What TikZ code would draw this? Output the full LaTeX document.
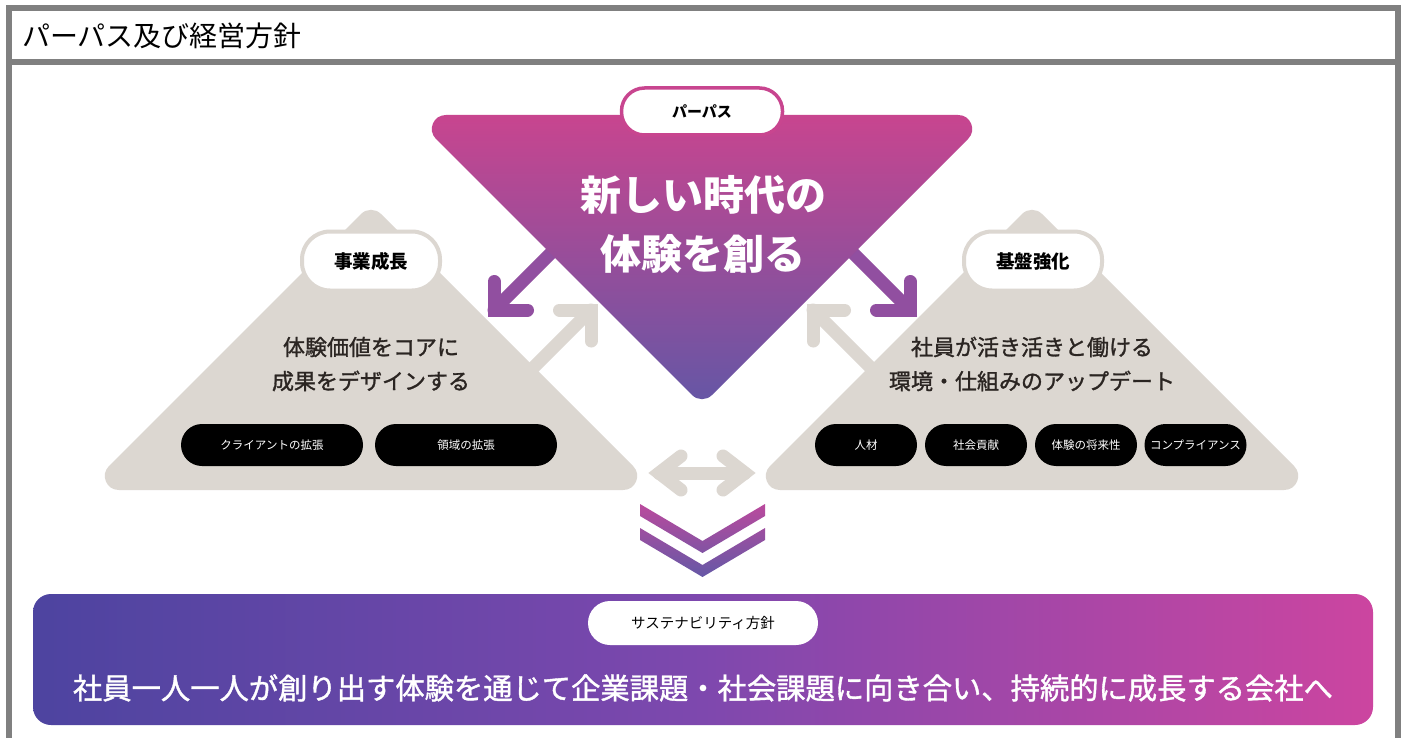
\documentclass[tikz,border=0pt]{standalone}
\usepackage{fontspec}
\newfontfamily\jp{Noto Sans CJK JP}
\newfontfamily\jpm{Noto Sans CJK JP}[FakeBold=1.3]
\definecolor{frame}{HTML}{808080}
\definecolor{tpink}{HTML}{C8458F}
\definecolor{tblue}{HTML}{6656A5}
\definecolor{grayT}{HTML}{DCD7D1}
\definecolor{arrowP}{HTML}{914FA0}
\definecolor{darktext}{HTML}{2B2522}
\definecolor{bblue}{HTML}{4D44A0}
\definecolor{bmid}{HTML}{7E48AE}
\definecolor{bpink}{HTML}{CC45A0}
\definecolor{cvtop}{HTML}{BA4A9D}
\definecolor{cvbot}{HTML}{6558A6}
\begin{document}
\begin{tikzpicture}[x=1pt,y=-1pt,
  framestyle/.style={draw=frame, line width=6pt},
  graytri/.style={fill=grayT},
  wpill/.style={draw=grayT, line width=4pt, fill=white, rounded corners=28pt,
    minimum width=138pt, minimum height=59pt, inner sep=0pt,
    font=\jp\bfseries\fontsize{18.5}{22}\selectfont, text=black},
  ppill/.style={draw=tpink, line width=3.5pt, fill=white, rounded corners=23pt,
    minimum width=161pt, minimum height=47pt, inner sep=0pt,
    font=\jp\bfseries\fontsize{15}{18}\selectfont, text=black},
  spill/.style={fill=white, rounded corners=22pt,
    minimum width=230pt, minimum height=44pt, inner sep=0pt,
    font=\jp\fontsize{14.5}{17}\selectfont, text=black},
  bpill/.style={fill=black, rounded corners=21pt, minimum height=42pt, inner sep=0pt,
    text=white, font=\jp\fontsize{11.5}{13}\selectfont},
  midtext/.style={font=\jpm\fontsize{22}{26}\selectfont, text=darktext, inner sep=0pt},
  bigtext/.style={font=\jp\bfseries\fontsize{41}{48}\selectfont, text=white, inner sep=0pt},
  parrow/.style={draw=arrowP, line width=13pt, line cap=round, line join=miter},
  garrow/.style={draw=grayT, line width=13pt, line cap=round, line join=miter}
]
\useasboundingbox (0,0) rectangle (1405,738);
\fill[white] (0,0) rectangle (1405,738);

% frame
\draw[framestyle] (8.5,745) -- (8.5,8) -- (1397.5,8) -- (1397.5,745);
\draw[draw=frame, line width=5.5pt] (8.5,62) -- (1397.5,62);
\node[anchor=west, inner sep=0pt, font=\jp\fontsize{28}{32}\selectfont] (title) at (22,36) {パーパス及び経営方針};

% gray triangles (rounded corners built by hand)
\path[graytri] (361.1,213.9) .. controls (366.5,208.5) and (375.5,208.5) .. (380.9,213.9)
  -- (633.1,466.1) .. controls (641.9,474.9) and (635.7,490) .. (623.2,490)
  -- (118.8,490) .. controls (106.3,490) and (100.1,474.9) .. (108.9,466.1) -- cycle;
\begin{scope}[xshift=661pt]
\path[graytri] (361.1,213.9) .. controls (366.5,208.5) and (375.5,208.5) .. (380.9,213.9)
  -- (633.1,466.1) .. controls (641.9,474.9) and (635.7,490) .. (623.2,490)
  -- (118.8,490) .. controls (106.3,490) and (100.1,474.9) .. (108.9,466.1) -- cycle;
\end{scope}

% gray arrows
\coordinate (lgC) at (591,310);
\coordinate (lgT) at (525,376);
\coordinate (lgA) at (559.5,310);
\coordinate (lgB) at (591,341);
\draw[garrow] (lgT) -- (lgC);
\draw[garrow] (lgA) -- (lgC) -- (lgB);
\coordinate (rgC) at (813,310);
\coordinate (rgT) at (879,376);
\coordinate (rgA) at (844.5,310);
\coordinate (rgB) at (813,341);
\draw[garrow] (rgT) -- (rgC);
\draw[garrow] (rgA) -- (rgC) -- (rgB);

% purple arrows
\coordinate (lpC) at (494,310);
\coordinate (lpT) at (565,239);
\coordinate (lpA) at (494,281.5);
\coordinate (lpB) at (527.5,310);
\draw[parrow] (lpT) -- (lpC);
\draw[parrow] (lpA) -- (lpC) -- (lpB);
\coordinate (rpC) at (910,310);
\coordinate (rpT) at (839,239);
\coordinate (rpA) at (910,281.5);
\coordinate (rpB) at (876.5,310);
\draw[parrow] (rpT) -- (rpC);
\draw[parrow] (rpA) -- (rpC) -- (rpB);

% top triangle
\shade[top color=tpink, bottom color=tblue]
  (445.8,115) -- (958.2,115) .. controls (970.7,115) and (976.9,130.1) .. (968.1,138.9)
  -- (711.9,395.1) .. controls (706.5,400.5) and (697.5,400.5) .. (692.1,395.1)
  -- (435.9,138.9) .. controls (427.1,130.1) and (433.3,115) .. (445.8,115) -- cycle;

% pills
\node[ppill] (purpose) at (702,111.5) {パーパス};
\node[wpill] (jigyo) at (371,261) {事業成長};
\node[wpill] (kiban) at (1033,261) {基盤強化};

% big text
\node[bigtext] (p1) at (703,195) {新しい時代の};
\node[bigtext] (p2) at (703,254) {体験を創る};

% middle texts
\node[midtext] (l1) at (371,347) {体験価値をコアに};
\node[midtext] (l2) at (371,381) {成果をデザインする};
\node[midtext] (r1) at (1032,347) {社員が活き活きと働ける};
\node[midtext] (r2) at (1032,381) {環境・仕組みのアップデート};

% black pills
\node[bpill, minimum width=182pt] (c1) at (272,445) {クライアントの拡張};
\node[bpill, minimum width=182pt] (c2) at (466,445) {領域の拡張};
\node[bpill, minimum width=102pt] (k1) at (866,445) {人材};
\node[bpill, minimum width=102pt] (k2) at (976,445) {社会貢献};
\node[bpill, minimum width=102pt] (k3) at (1086,445) {体験の将来性};
\node[bpill, minimum width=102pt] (k4) at (1195.5,445) {コンプライアンス};

% double arrow
\coordinate (dl) at (659,473);
\coordinate (dr) at (745,473);
\coordinate (dl1) at (681,456);
\coordinate (dl2) at (681,490);
\coordinate (dr1) at (723,456);
\coordinate (dr2) at (723,490);
\draw[garrow] (dl) -- (dr);
\draw[garrow] (dl1) -- (dl) -- (dl2);
\draw[garrow] (dr1) -- (dr) -- (dr2);

% chevrons
\shade[top color=cvtop, bottom color=cvbot]
  (640,504) -- (702.5,541) -- (765,504) -- (765,516) -- (702.5,553) -- (640,516) -- cycle
  (640,528) -- (702.5,565) -- (765,528) -- (765,540) -- (702.5,577) -- (640,540) -- cycle;

% banner
\shade[left color=bblue, right color=bpink, middle color=bmid, rounded corners=18pt]
  (33,594) rectangle (1373,725);
\node[spill] (sus) at (703,623) {サステナビリティ方針};
\node[inner sep=0pt, text=white, font=\jpm\fontsize{29.3}{34}\selectfont] (main) at (703,688)
  {社員一人一人が創り出す体験を通じて企業課題・社会課題に向き合い、持続的に成長する会社へ};
\end{tikzpicture}
\end{document}
